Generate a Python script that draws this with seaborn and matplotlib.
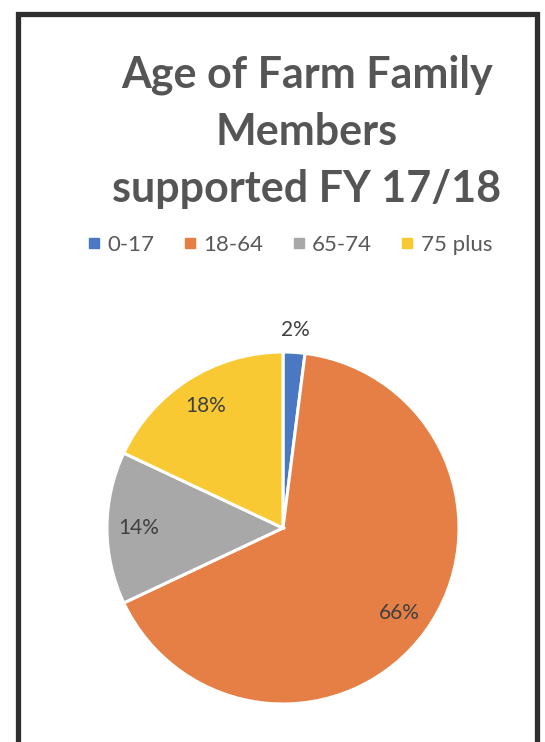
import matplotlib
matplotlib.use("Agg")
import matplotlib.pyplot as plt
import seaborn as sns
import numpy as np
from matplotlib.patches import Rectangle
from matplotlib.lines import Line2D

# datos
categorias = ["0-17", "18-64", "65-74", "75 plus"]
porcentajes = [2, 66, 14, 18]
colores = ["#4a78c2", "#e57f45", "#a8a8a8", "#f9c934"]
titulo = "Age of Farm Family\nMembers\nsupported FY 17/18"

sns.set_theme(style="white")
plt.rcParams['font.family'] = ['Lato', 'DejaVu Sans']

fig = plt.figure(figsize=(5.45, 7.42), dpi=100)
fig.patch.set_facecolor("white")

# marco negro alrededor del grafico
fig.patches.append(Rectangle((18/545, -0.01), 519/545, 1 - 14/742 + 0.01,
                             transform=fig.transFigure, fill=False,
                             edgecolor="#2e2e2e", linewidth=3.8))

# titulo
fig.text(307/545, 1 - 132/742, titulo, ha="center", va="center",
         fontsize=31, fontweight="bold", color="#555555", linespacing=1.52)

# pastel
ax = fig.add_axes([107/545, 38/742, 352/545, 352/742])
paleta = sns.color_palette(colores)
wedges, textos, autotextos = ax.pie(
    porcentajes, colors=paleta, startangle=90, counterclock=False,
    autopct="%1.0f%%", pctdistance=0.82,
    wedgeprops=dict(edgecolor="white", linewidth=2.2),
    textprops=dict(fontsize=15, color="#404040"))
ax.set_xlim(-1, 1)
ax.set_ylim(-1, 1)
ax.set_aspect("equal")

# la etiqueta pequeña va fuera del pastel
w = wedges[0]
ang = np.deg2rad((w.theta1 + w.theta2) / 2)
autotextos[0].set_position((1.13 * np.cos(ang), 1.13 * np.sin(ang)))

# leyenda
manijas = [Line2D([0], [0], marker="s", linestyle="", markersize=7,
                  markerfacecolor=c, markeredgecolor=c) for c in paleta]
fig.legend(manijas, categorias, loc="center", ncol=4,
           bbox_to_anchor=(288/545, 1 - 245/742), frameon=False,
           fontsize=16, labelcolor="#595959", handletextpad=0.15,
           columnspacing=1.15, handlelength=0.9)

fig.savefig("out.png", dpi=100)
